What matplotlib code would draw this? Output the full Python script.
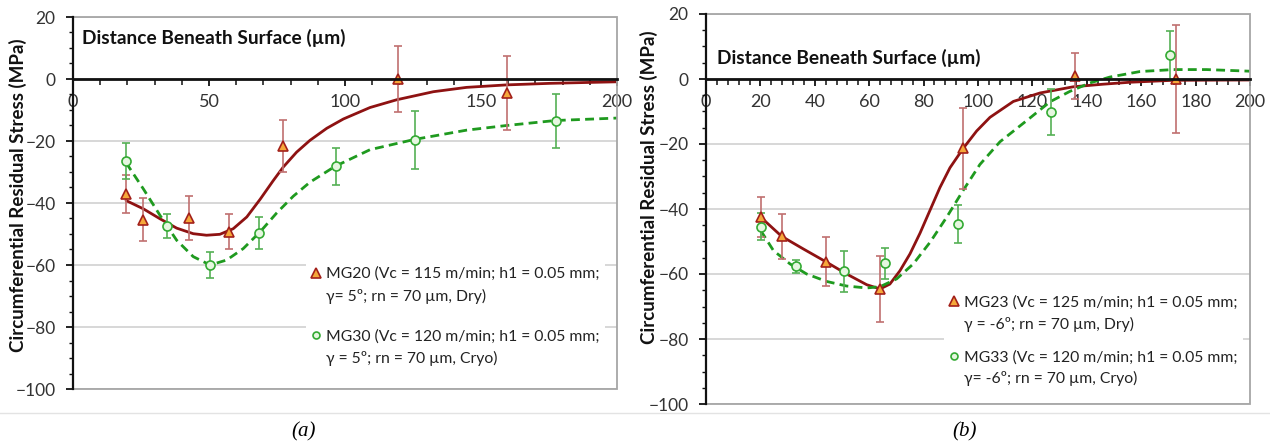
import matplotlib
matplotlib.use("Agg")
import matplotlib.pyplot as plt
from matplotlib.lines import Line2D
from matplotlib.patches import Rectangle
from matplotlib.ticker import MultipleLocator

plt.rcParams['font.family'] = ['Lato', 'DejaVu Sans']

# ---------------- data: panel (a) ----------------
a_mg20_x = [19.5, 25.6, 42.5, 57.5, 77.3, 119.5, 159.4]
a_mg20_y = [-37.2, -45.4, -44.8, -49.3, -21.6, 0.0, -4.6]
a_mg20_err = [6.1, 6.9, 7.2, 5.7, 8.4, 10.5, 12.0]

a_mg30_x = [19.5, 34.7, 50.4, 68.4, 96.6, 125.6, 177.4]
a_mg30_y = [-26.3, -47.5, -60.0, -49.8, -28.2, -19.7, -13.6]
a_mg30_err = [5.8, 3.8, 4.3, 5.2, 6.1, 9.4, 8.7]

a_fit20_x = [19.5, 25.9, 32.0, 38.1, 44.2, 49.1, 54.0, 58.9, 63.9, 68.8, 73.6, 77.3,
             82.2, 87.1, 93.3, 99.4, 109.2, 119.0, 132.5, 144.7, 159.4, 175.4, 200.0]
a_fit20_y = [-39.2, -41.9, -45.1, -48.1, -49.9, -50.4, -50.1, -48.3, -44.5, -38.8, -32.8, -28.4,
             -23.6, -19.8, -15.9, -12.9, -9.2, -6.7, -4.1, -2.7, -1.9, -1.4, -0.9]

a_fit30_x = [19.5, 25.9, 32.0, 38.1, 44.2, 50.4, 56.5, 62.6, 68.8, 74.9, 81.0, 87.1,
             96.3, 109.2, 125.5, 144.7, 159.4, 177.2, 200.0]
a_fit30_y = [-27.0, -35.5, -44.0, -52.0, -57.3, -60.0, -58.4, -54.7, -49.3, -43.2, -37.8, -33.3,
             -28.2, -22.8, -19.5, -16.5, -15.0, -13.4, -12.6]

# ---------------- data: panel (b) ----------------
b_mg23_x = [20.1, 27.8, 44.0, 63.8, 94.6, 135.7, 172.8]
b_mg23_y = [-42.5, -48.4, -56.2, -64.6, -21.3, 0.9, 0.0]
b_mg23_err = [6.2, 7.0, 7.5, 10.2, 12.4, 7.2, 16.7]

b_mg33_x = [20.1, 33.0, 50.9, 65.9, 92.8, 126.8, 170.6]
b_mg33_y = [-45.4, -57.6, -59.2, -56.7, -44.7, -10.2, 7.3]
b_mg33_err = [4.1, 2.0, 6.3, 4.8, 5.9, 7.0, 7.6]

b_fit23_x = [20.1, 27.8, 35.8, 44.0, 51.7, 59.1, 64.0, 67.6, 71.3, 75.0, 78.7, 82.4, 86.0,
             89.7, 94.6, 99.5, 104.4, 113.0, 122.8, 135.0, 146.0, 155.9, 171.8, 200.0]
b_fit23_y = [-42.5, -48.4, -52.3, -56.2, -60.0, -63.3, -64.6, -63.1, -59.0, -53.8, -47.4, -40.3, -33.4,
             -27.3, -21.3, -16.0, -11.8, -6.9, -4.3, -2.4, -1.6, -1.0, -0.4, -0.3]

b_fit33_x = [20.1, 24.8, 30.9, 37.0, 44.4, 51.7, 59.1, 64.0, 70.1, 76.2, 82.4, 88.5, 94.6,
             100.7, 108.1, 119.1, 126.5, 133.8, 141.2, 148.5, 159.6, 171.8, 184.0, 200.0]
b_fit33_y = [-46.6, -52.8, -56.9, -60.0, -62.3, -63.7, -64.3, -63.9, -61.5, -56.9, -50.2, -42.5, -34.2,
             -26.3, -19.3, -12.0, -7.0, -3.8, -1.2, 0.6, 2.3, 2.9, 2.9, 2.4]

labels_a = ["MG20 (Vc = 115 m/min; h1 = 0.05 mm;\n\u03b3= 5\u00ba; rn = 70 \u00b5m, Dry)",
            "MG30 (Vc = 120 m/min; h1 = 0.05 mm;\n\u03b3 = 5\u00ba; rn = 70 \u00b5m, Cryo)"]
labels_b = ["MG23 (Vc = 125 m/min; h1 = 0.05 mm;\n\u03b3 = -6\u00ba; rn = 70 \u00b5m, Dry)",
            "MG33 (Vc = 120 m/min; h1 = 0.05 mm;\n\u03b3= -6\u00ba; rn = 70 \u00b5m, Cryo)"]

x_title = "Distance Beneath Surface (\u00b5m)"
y_title = "Circumferential Residual Stress (MPa)"

# ---------------- styles ----------------
RED_LINE = '#8e1212'
RED_EDGE = '#a3201a'
RED_FILL = '#f5a83a'
RED_ERR = '#c07070'
GRN_LINE = '#1f9a1f'
GRN_EDGE = '#33aa33'
GRN_FILL = '#e6f7e0'
GRN_ERR = '#55b055'

fig = plt.figure(figsize=(12.7, 4.44), dpi=100)
W, H = 1270.0, 444.0
LEG_FS = 11.3


def setup(ax, major, minor, ylabel_pos):
    ax.set_xlim(0, 200)
    ax.set_ylim(-100, 20)
    ax.xaxis.set_major_locator(MultipleLocator(major))
    ax.xaxis.set_minor_locator(MultipleLocator(minor))
    ax.yaxis.set_major_locator(MultipleLocator(20))
    ax.yaxis.set_minor_locator(MultipleLocator(5))
    ax.spines['bottom'].set_position(('data', 0))
    ax.spines['bottom'].set_color('#111111')
    ax.spines['bottom'].set_linewidth(2.0)
    ax.spines['bottom'].set_zorder(7)
    ax.spines['left'].set_color('#111111')
    ax.spines['left'].set_linewidth(1.6)
    ax.spines['left'].set_zorder(7)
    ax.spines['top'].set_visible(False)
    ax.spines['right'].set_visible(False)
    ax.add_patch(Rectangle((0, 0), 1, 1, transform=ax.transAxes, fill=False,
                           ec='#a6a6a6', lw=1.3, clip_on=False, zorder=6))
    ax.tick_params(axis='x', which='major', direction='out', length=5, width=1.3,
                   color='#111111', labelsize=13, labelcolor='#333333', pad=6)
    ax.tick_params(axis='x', which='minor', direction='out', length=4, width=1.1,
                   color='#111111')
    ax.tick_params(axis='y', which='major', direction='out', length=5, width=1.3,
                   color='#111111', labelsize=12.5, labelcolor='#333333', pad=7.5)
    ax.tick_params(axis='y', which='minor', direction='out', length=3, width=1.0,
                   color='#111111')
    ax.yaxis.grid(True, color='#d4d4d4', lw=1.3)
    ax.set_axisbelow(True)
    ax.set_ylabel(y_title, fontsize=13.5, fontweight='bold', color='#111111')
    ax.yaxis.set_label_coords(*ylabel_pos)


def draw(ax, tx, ty, te, cx, cy, ce, fx1, fy1, fx2, fy2, labels, title_xy,
         leg_anchor, line_sp, label_sp):
    ax.plot(fx1, fy1, color=RED_LINE, lw=2.0, zorder=3, solid_capstyle='round',
            solid_joinstyle='round')
    ax.plot(fx2, fy2, color=GRN_LINE, lw=2.0, ls=(0, (3.2, 1.9)), zorder=3)
    ax.errorbar(tx, ty, yerr=te, fmt='none', ecolor=RED_ERR, elinewidth=1.2,
                capsize=3, capthick=1.2, zorder=4)
    ax.errorbar(cx, cy, yerr=ce, fmt='none', ecolor=GRN_ERR, elinewidth=1.2,
                capsize=3, capthick=1.2, zorder=4)
    ax.plot(tx, ty, ls='none', marker='^', ms=7.5, mfc=RED_FILL, mec=RED_EDGE,
            mew=1.2, zorder=5)
    ax.plot(cx, cy, ls='none', marker='o', ms=6.5, mfc=GRN_FILL, mec=GRN_EDGE,
            mew=1.2, zorder=5)
    ax.text(title_xy[0], title_xy[1], x_title, transform=ax.transAxes,
            fontsize=13.8, fontweight='bold', color='#111111', ha='left', va='center')
    handles = [Line2D([], [], ls='none', marker='^', ms=6.5, mfc=RED_FILL, mec=RED_EDGE, mew=1.2),
               Line2D([], [], ls='none', marker='o', ms=5, mfc=GRN_FILL, mec=GRN_EDGE, mew=1.2)]
    leg = ax.legend(handles, labels, loc='lower right', bbox_to_anchor=leg_anchor,
                    fontsize=LEG_FS, frameon=True, framealpha=1, edgecolor='none',
                    fancybox=False, handlelength=0.6, handletextpad=0.32,
                    labelspacing=label_sp, borderpad=0.35, borderaxespad=0)
    leg.get_frame().set_facecolor('white')
    for t in leg.get_texts():
        t.set_linespacing(line_sp)
        t.set_color('#222222')
    # align each marker with the first line of its two-line label
    for h in leg.legend_handles:
        yd = h.get_ydata()
        h.set_ydata([v + 0.78 * LEG_FS for v in yd])
    leg.set_zorder(2.5)


axA = fig.add_axes([73 / W, 55 / H, 544 / W, 372 / H])
setup(axA, 50, 10, (-0.085, 0.52))
draw(axA, a_mg20_x, a_mg20_y, a_mg20_err, a_mg30_x, a_mg30_y, a_mg30_err,
     a_fit20_x, a_fit20_y, a_fit30_x, a_fit30_y, labels_a, (0.017, 0.944),
     (0.978, 0.046), 1.66, 1.62)

axB = fig.add_axes([706 / W, 40 / H, 544 / W, 390 / H])
setup(axB, 20, 4, (-0.088, 0.555))
draw(axB, b_mg23_x, b_mg23_y, b_mg23_err, b_mg33_x, b_mg33_y, b_mg33_err,
     b_fit23_x, b_fit23_y, b_fit33_x, b_fit33_y, labels_b, (0.02, 0.887),
     (0.987, 0.031), 1.55, 1.2)

# separator line and captions
fig.add_artist(Line2D([0, 1], [1 - 413 / H, 1 - 413 / H], transform=fig.transFigure,
                      color='#e3e3e3', lw=1.0))
fig.text(304 / W, 1 - 432 / H, "(a)", fontsize=15, style='italic',
         family='Liberation Serif', ha='center', va='center')
fig.text(965 / W, 1 - 432 / H, "(b)", fontsize=15, style='italic',
         family='Liberation Serif', ha='center', va='center')

fig.savefig("out.png", dpi=100, facecolor='white')
